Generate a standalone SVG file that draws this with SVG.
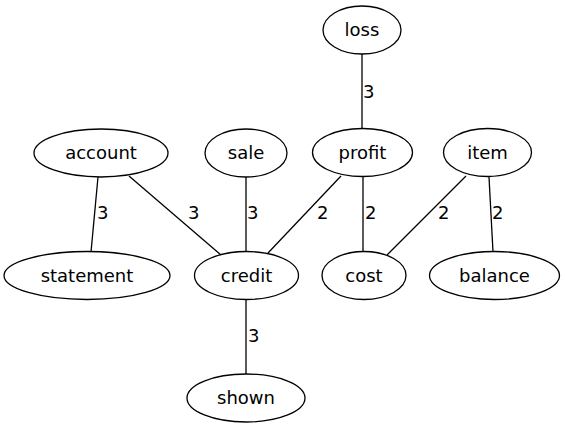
<svg xmlns="http://www.w3.org/2000/svg" width="565" height="429" viewBox="0 0 565 429">
<style>
ellipse{fill:none;stroke:#000;stroke-width:1.3}
line{stroke:#000;stroke-width:1.3}
text{font-family:"DejaVu Sans",sans-serif;font-size:18px;fill:#000}
.n{text-anchor:middle}
</style>
<rect width="565" height="429" fill="#fff"/>
<g id="edges">
<line x1="362" y1="54" x2="362" y2="128"/>
<text x="363" y="98">3</text>
<line x1="98" y1="177" x2="91" y2="252"/>
<text x="97" y="219">3</text>
<line x1="129" y1="176" x2="221" y2="255"/>
<text x="188" y="219">3</text>
<line x1="246" y1="177" x2="246" y2="252"/>
<text x="247" y="219">3</text>
<line x1="341" y1="176" x2="268" y2="253"/>
<text x="317" y="219">2</text>
<line x1="363" y1="177" x2="363" y2="252"/>
<text x="365" y="219">2</text>
<line x1="466" y1="176" x2="387" y2="255"/>
<text x="438" y="219">2</text>
<line x1="489" y1="177" x2="493" y2="252"/>
<text x="492" y="219">2</text>
<line x1="246" y1="300" x2="246" y2="374"/>
<text x="248" y="342">3</text>
</g>
<g id="loss"><ellipse cx="362" cy="30" rx="39" ry="24"/><text class="n" x="362" y="36">loss</text></g>
<g id="account"><ellipse cx="101" cy="153" rx="67" ry="24"/><text class="n" x="101" y="159">account</text></g>
<g id="sale"><ellipse cx="246" cy="153" rx="41" ry="24"/><text class="n" x="246" y="159">sale</text></g>
<g id="profit"><ellipse cx="362.5" cy="152.5" rx="50" ry="24"/><text class="n" x="362.5" y="159">profit</text></g>
<g id="item"><ellipse cx="487.5" cy="152.5" rx="44" ry="24"/><text class="n" x="487.5" y="159">item</text></g>
<g id="statement"><ellipse cx="87" cy="275.5" rx="83" ry="24"/><text class="n" x="87" y="282">statement</text></g>
<g id="credit"><ellipse cx="246.5" cy="275.5" rx="52" ry="24"/><text class="n" x="246.5" y="282">credit</text></g>
<g id="cost"><ellipse cx="364" cy="275.5" rx="42" ry="24"/><text class="n" x="364" y="282">cost</text></g>
<g id="balance"><ellipse cx="494.5" cy="275.5" rx="65" ry="24"/><text class="n" x="494.5" y="282">balance</text></g>
<g id="shown"><ellipse cx="246" cy="398" rx="59" ry="24"/><text class="n" x="246" y="404">shown</text></g>
</svg>
